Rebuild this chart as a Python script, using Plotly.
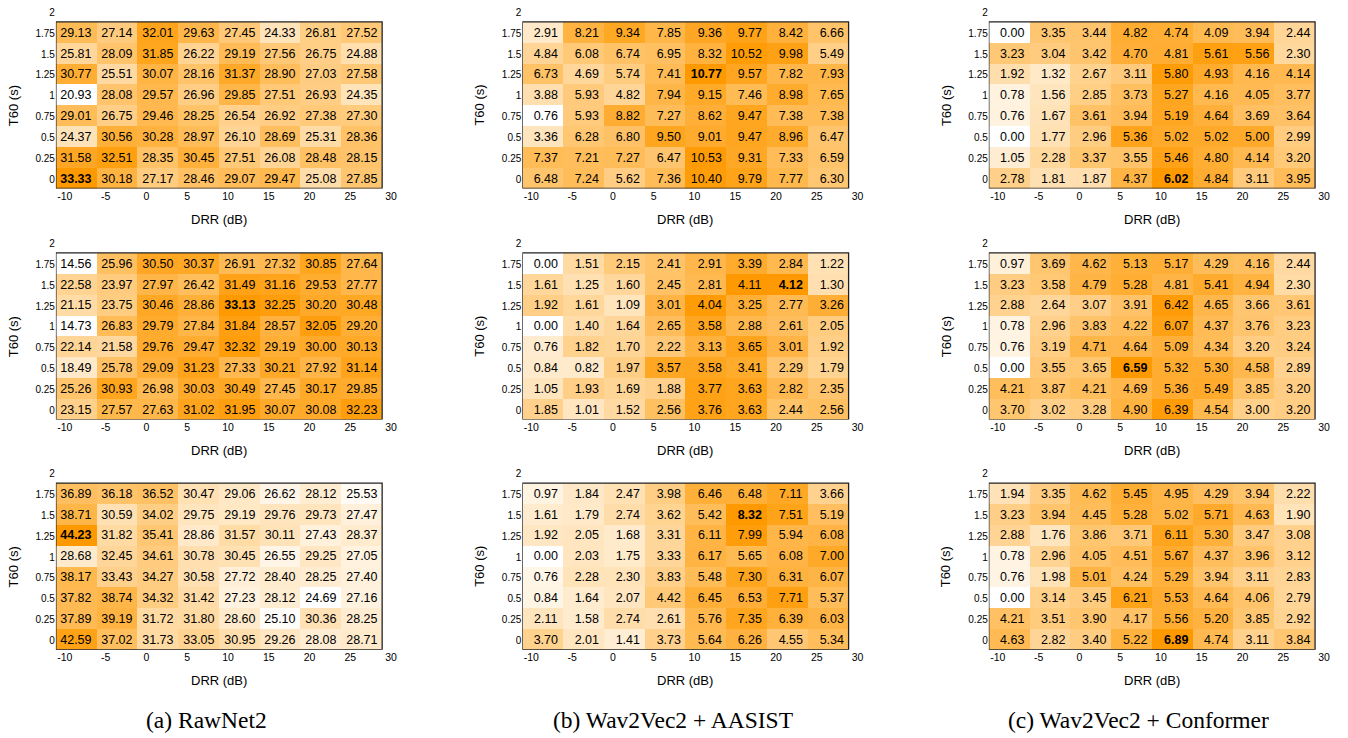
import plotly.graph_objects as go

# ---------------- data ----------------
drr_labels = ["-10", "-5", "0", "5", "10", "15", "20", "25", "30"]
t60_labels = ["0", "0.25", "0.5", "0.75", "1", "1.25", "1.5", "1.75", "2"]
captions = ["(a) RawNet2", "(b) Wav2Vec2 + AASIST", "(c) Wav2Vec2 + Conformer"]
x_title = "DRR (dB)"
y_title = "T60 (s)"

# rows listed from T60 = 1.75 (top) down to T60 = 0 (bottom); columns DRR -10 .. 25
rawnet2_r1 = [
    [29.13, 27.14, 32.01, 29.63, 27.45, 24.33, 26.81, 27.52],
    [25.81, 28.09, 31.85, 26.22, 29.19, 27.56, 26.75, 24.88],
    [30.77, 25.51, 30.07, 28.16, 31.37, 28.90, 27.03, 27.58],
    [20.93, 28.08, 29.57, 26.96, 29.85, 27.51, 26.93, 24.35],
    [29.01, 26.75, 29.46, 28.25, 26.54, 26.92, 27.38, 27.30],
    [24.37, 30.56, 30.28, 28.97, 26.10, 28.69, 25.31, 28.36],
    [31.58, 32.51, 28.35, 30.45, 27.51, 26.08, 28.48, 28.15],
    [33.33, 30.18, 27.17, 28.46, 29.07, 29.47, 25.08, 27.85],
]
rawnet2_r2 = [
    [14.56, 25.96, 30.50, 30.37, 26.91, 27.32, 30.85, 27.64],
    [22.58, 23.97, 27.97, 26.42, 31.49, 31.16, 29.53, 27.77],
    [21.15, 23.75, 30.46, 28.86, 33.13, 32.25, 30.20, 30.48],
    [14.73, 26.83, 29.79, 27.84, 31.84, 28.57, 32.05, 29.20],
    [22.14, 21.58, 29.76, 29.47, 32.32, 29.19, 30.00, 30.13],
    [18.49, 25.78, 29.09, 31.23, 27.33, 30.21, 27.92, 31.14],
    [25.26, 30.93, 26.98, 30.03, 30.49, 27.45, 30.17, 29.85],
    [23.15, 27.57, 27.63, 31.02, 31.95, 30.07, 30.08, 32.23],
]
rawnet2_r3 = [
    [36.89, 36.18, 36.52, 30.47, 29.06, 26.62, 28.12, 25.53],
    [38.71, 30.59, 34.02, 29.75, 29.19, 29.76, 29.73, 27.47],
    [44.23, 31.82, 35.41, 28.86, 31.57, 30.11, 27.43, 28.37],
    [28.68, 32.45, 34.61, 30.78, 30.45, 26.55, 29.25, 27.05],
    [38.17, 33.43, 34.27, 30.58, 27.72, 28.40, 28.25, 27.40],
    [37.82, 38.74, 34.32, 31.42, 27.23, 28.12, 24.69, 27.16],
    [37.89, 39.19, 31.72, 31.80, 28.60, 25.10, 30.36, 28.25],
    [42.59, 37.02, 31.73, 33.05, 30.95, 29.26, 28.08, 28.71],
]
aasist_r1 = [
    [2.91, 8.21, 9.34, 7.85, 9.36, 9.77, 8.42, 6.66],
    [4.84, 6.08, 6.74, 6.95, 8.32, 10.52, 9.98, 5.49],
    [6.73, 4.69, 5.74, 7.41, 10.77, 9.57, 7.82, 7.93],
    [3.88, 5.93, 4.82, 7.94, 9.15, 7.46, 8.98, 7.65],
    [0.76, 5.93, 8.82, 7.27, 8.62, 9.47, 7.38, 7.38],
    [3.36, 6.28, 6.80, 9.50, 9.01, 9.47, 8.96, 6.47],
    [7.37, 7.21, 7.27, 6.47, 10.53, 9.31, 7.33, 6.59],
    [6.48, 7.24, 5.62, 7.36, 10.40, 9.79, 7.77, 6.30],
]
aasist_r2 = [
    [0.00, 1.51, 2.15, 2.41, 2.91, 3.39, 2.84, 1.22],
    [1.61, 1.25, 1.60, 2.45, 2.81, 4.11, 4.12, 1.30],
    [1.92, 1.61, 1.09, 3.01, 4.04, 3.25, 2.77, 3.26],
    [0.00, 1.40, 1.64, 2.65, 3.58, 2.88, 2.61, 2.05],
    [0.76, 1.82, 1.70, 2.22, 3.13, 3.65, 3.01, 1.92],
    [0.84, 0.82, 1.97, 3.57, 3.58, 3.41, 2.29, 1.79],
    [1.05, 1.93, 1.69, 1.88, 3.77, 3.63, 2.82, 2.35],
    [1.85, 1.01, 1.52, 2.56, 3.76, 3.63, 2.44, 2.56],
]
aasist_r3 = [
    [0.97, 1.84, 2.47, 3.98, 6.46, 6.48, 7.11, 3.66],
    [1.61, 1.79, 2.74, 3.62, 5.42, 8.32, 7.51, 5.19],
    [1.92, 2.05, 1.68, 3.31, 6.11, 7.99, 5.94, 6.08],
    [0.00, 2.03, 1.75, 3.33, 6.17, 5.65, 6.08, 7.00],
    [0.76, 2.28, 2.30, 3.83, 5.48, 7.30, 6.31, 6.07],
    [0.84, 1.64, 2.07, 4.42, 6.45, 6.53, 7.71, 5.37],
    [2.11, 1.58, 2.74, 2.61, 5.76, 7.35, 6.39, 6.03],
    [3.70, 2.01, 1.41, 3.73, 5.64, 6.26, 4.55, 5.34],
]
conformer_r1 = [
    [0.00, 3.35, 3.44, 4.82, 4.74, 4.09, 3.94, 2.44],
    [3.23, 3.04, 3.42, 4.70, 4.81, 5.61, 5.56, 2.30],
    [1.92, 1.32, 2.67, 3.11, 5.80, 4.93, 4.16, 4.14],
    [0.78, 1.56, 2.85, 3.73, 5.27, 4.16, 4.05, 3.77],
    [0.76, 1.67, 3.61, 3.94, 5.19, 4.64, 3.69, 3.64],
    [0.00, 1.77, 2.96, 5.36, 5.02, 5.02, 5.00, 2.99],
    [1.05, 2.28, 3.37, 3.55, 5.46, 4.80, 4.14, 3.20],
    [2.78, 1.81, 1.87, 4.37, 6.02, 4.84, 3.11, 3.95],
]
conformer_r2 = [
    [0.97, 3.69, 4.62, 5.13, 5.17, 4.29, 4.16, 2.44],
    [3.23, 3.58, 4.79, 5.28, 4.81, 5.41, 4.94, 2.30],
    [2.88, 2.64, 3.07, 3.91, 6.42, 4.65, 3.66, 3.61],
    [0.78, 2.96, 3.83, 4.22, 6.07, 4.37, 3.76, 3.23],
    [0.76, 3.19, 4.71, 4.64, 5.09, 4.34, 3.20, 3.24],
    [0.00, 3.55, 3.65, 6.59, 5.32, 5.30, 4.58, 2.89],
    [4.21, 3.87, 4.21, 4.69, 5.36, 5.49, 3.85, 3.20],
    [3.70, 3.02, 3.28, 4.90, 6.39, 4.54, 3.00, 3.20],
]
conformer_r3 = [
    [1.94, 3.35, 4.62, 5.45, 4.95, 4.29, 3.94, 2.22],
    [3.23, 3.94, 4.45, 5.28, 5.02, 5.71, 4.63, 1.90],
    [2.88, 1.76, 3.86, 3.71, 6.11, 5.30, 3.47, 3.08],
    [0.78, 2.96, 4.05, 4.51, 5.67, 4.37, 3.96, 3.12],
    [0.76, 1.98, 5.01, 4.24, 5.29, 3.94, 3.11, 2.83],
    [0.00, 3.14, 3.45, 6.21, 5.53, 4.64, 4.06, 2.79],
    [4.21, 3.51, 3.90, 4.17, 5.56, 5.20, 3.85, 2.92],
    [4.63, 2.82, 3.40, 5.22, 6.89, 4.74, 3.11, 3.84],
]

grid = [
    [rawnet2_r1, aasist_r1, conformer_r1],
    [rawnet2_r2, aasist_r2, conformer_r2],
    [rawnet2_r3, aasist_r3, conformer_r3],
]

# ---------------- layout geometry (page pixels) ----------------
W, H = 1348, 738
frame_left = [56, 523.5, 991]
frame_width = 327
frame_top = [16, 249, 481]
frame_height = 168
n = 8
cw = frame_width / n
rh = frame_height / n
x_ext = 0.30   # extra range to the right so the last tick label fits
y_ext = 0.45   # extra range on top for the "2" tick
x_tick_shift = -0.28
y_tick_shift = -0.05

orange_scale = [[0.0, "rgb(255,255,255)"], [1.0, "rgb(255,153,0)"]]
num_font = "Liberation Sans, Arial, sans-serif"


def px(xp):
    return xp / W


def py(yp):
    return 1 - yp / H


def fmt(v, is_max):
    s = f"{v:.2f}"
    if len(s) < 5:
        s = "\u2007" + s
    return f"<b>{s}</b>" if is_max else s


fig = go.Figure()
annotations = []
shapes = []
k = 0
for r in range(3):
    for c in range(3):
        k += 1
        rows_top_down = grid[r][c]
        z = rows_top_down[::-1]
        vmax = max(max(row) for row in z)
        text = [[fmt(v, v == vmax) for v in row] for row in z]
        xs = f"x{k}" if k > 1 else "x"
        ys = f"y{k}" if k > 1 else "y"
        fig.add_trace(go.Heatmap(
            z=z, x=list(range(n)), y=list(range(n)),
            text=text, texttemplate="%{text}",
            textfont=dict(family=num_font, size=12.5, color="black"),
            colorscale=orange_scale, showscale=False,
            xaxis=xs, yaxis=ys, hoverinfo="z",
        ))
        L = frame_left[c]
        T = frame_top[r]
        B = T + frame_height
        axkey = "xaxis" if k == 1 else f"xaxis{k}"
        aykey = "yaxis" if k == 1 else f"yaxis{k}"
        fig.layout[axkey] = dict(
            domain=[px(L), px(L + (n + x_ext) * cw)], range=[-0.5, n - 0.5 + x_ext],
            anchor=ys,
            tickvals=[i + x_tick_shift for i in range(len(drr_labels))],
            ticktext=drr_labels, ticks="", showgrid=False, zeroline=False,
            showline=False, tickfont=dict(family=num_font, size=10.5, color="black"),
            fixedrange=True,
        )
        fig.layout[aykey] = dict(
            domain=[py(B), py(T - y_ext * rh)], range=[-0.5, n - 0.5 + y_ext],
            anchor=xs,
            tickvals=[i + y_tick_shift for i in range(len(t60_labels))],
            ticktext=t60_labels, ticks="", showgrid=False, zeroline=False,
            showline=False, tickfont=dict(family=num_font, size=10, color="black"),
            fixedrange=True,
        )
        shapes.append(dict(type="rect", xref=xs, yref=ys,
                           x0=-0.5, x1=n - 0.5, y0=-0.5, y1=n - 0.5,
                           line=dict(color="#222222", width=1.3), layer="above"))
        cx = L + frame_width / 2
        cy = T + frame_height / 2
        annotations.append(dict(text=x_title, xref="paper", yref="paper",
                                x=px(cx), y=py(B + 31.5), showarrow=False,
                                xanchor="center", yanchor="middle",
                                font=dict(family=num_font, size=13, color="black")))
        annotations.append(dict(text=y_title, xref="paper", yref="paper",
                                x=px(L - 43), y=py(cy), showarrow=False,
                                textangle=-90, xanchor="center", yanchor="middle",
                                font=dict(family=num_font, size=13, color="black")))

for c in range(3):
    cx = frame_left[c] + frame_width / 2 - 13
    annotations.append(dict(text=captions[c], xref="paper", yref="paper",
                            x=px(cx), y=py(720), showarrow=False,
                            xanchor="center", yanchor="middle",
                            font=dict(family="Liberation Serif, Times New Roman, serif",
                                      size=23.5, color="black")))

fig.update_layout(
    width=W, height=H, margin=dict(l=0, r=0, t=0, b=0),
    paper_bgcolor="white", plot_bgcolor="white",
    annotations=annotations, shapes=shapes, showlegend=False,
)

fig.write_html("out.html", config={"displayModeBar": False},
               post_script="document.body.style.margin='0';document.body.style.overflow='hidden';")
